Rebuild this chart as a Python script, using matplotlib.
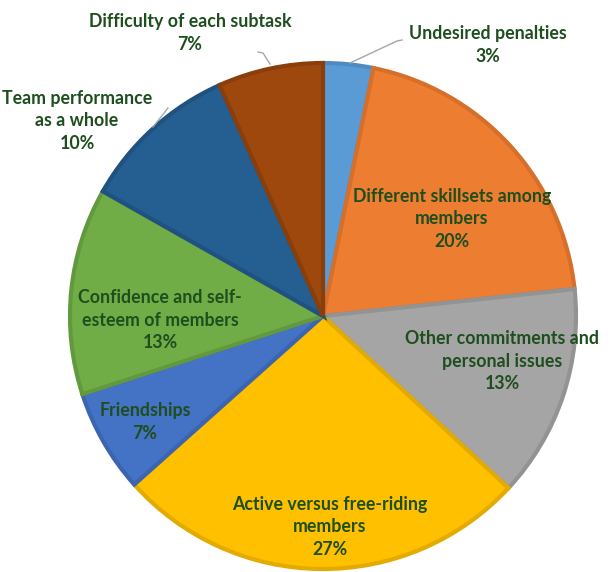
import matplotlib.pyplot as plt

labels = ['Undesired penalties', 'Different skillsets among\nmembers',
          'Other commitments and\npersonal issues', 'Active versus free-riding\nmembers',
          'Friendships', 'Confidence and self-\nesteem of members',
          'Team performance\nas a whole', 'Difficulty of each subtask']
values = [3.2, 20.1, 13.6, 26.5, 6.6, 13.2, 10.1, 6.7]
pct_text = ['3%', '20%', '13%', '27%', '7%', '13%', '10%', '7%']

colors = ['#5B9BD5', '#ED7D31', '#A5A5A5', '#FFC000', '#4472C4', '#70AD47', '#255E91', '#9E480E']
edges = ['#4F8BC2', '#D56F2A', '#939393', '#E3AB00', '#3B65B0', '#63993E', '#1F5280', '#8A3E0B']

W, H = 611, 572
# label centres in pixel coords (x, y from top)
label_pos = [(488, 45), (452, 219), (502, 361), (330, 527),
             (145, 422), (160, 320), (77, 121), (190, 33)]
leaders = [[(402, 40), (397, 41), (350, 63)],
           [(258, 52), (263, 53), (270, 64)],
           [(153, 127), (168, 108)]]

fig = plt.figure(figsize=(W / 100, H / 100), dpi=100)
ax = fig.add_axes([0, 0, 1, 1])

wedges, _ = ax.pie(values, colors=colors, startangle=90, counterclock=False,
                   center=(323, H - 316), radius=253, frame=True,
                   wedgeprops=dict(linewidth=3))
for w, e in zip(wedges, edges):
    w.set_edgecolor(e)
    w.set_joinstyle('miter')
ax.set_xlim(0, W)
ax.set_ylim(0, H)
ax.set_aspect('equal')
ax.axis('off')

for pts in leaders:
    ax.plot([p[0] for p in pts], [H - p[1] for p in pts], color='#A6A6A6', lw=1)

for lab, pct, (x, y) in zip(labels, pct_text, label_pos):
    ax.text(x, H - y, lab + '\n' + pct, ha='center', va='center', fontsize=12.8,
            fontweight='bold', family='Lato', color='#1E4E1E', linespacing=1.38)

fig.savefig('out.png', dpi=100)
